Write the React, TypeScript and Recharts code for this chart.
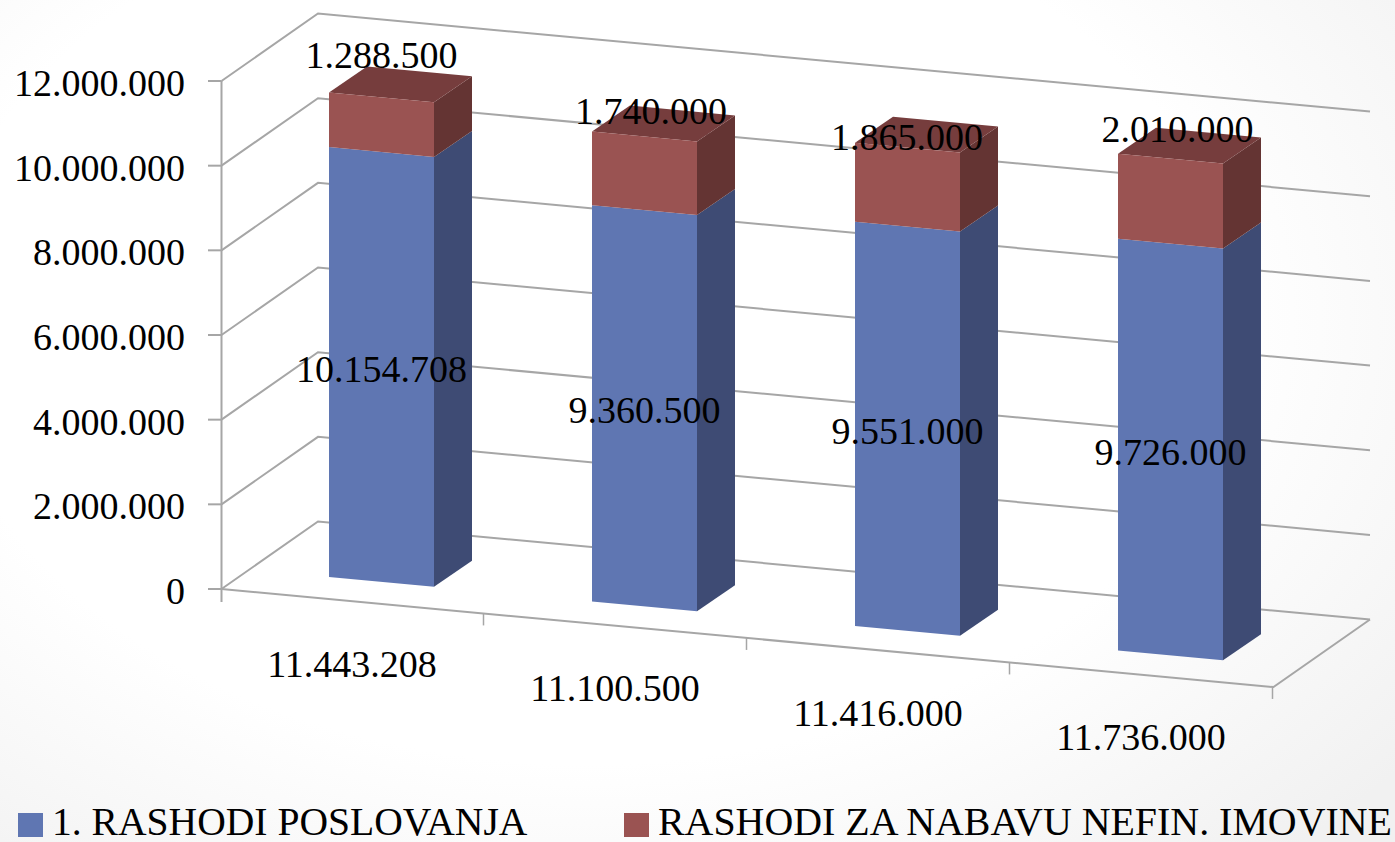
import React from "react";
import { BarChart, Bar, XAxis, YAxis, Legend, LabelList, CartesianGrid } from "recharts";

const totals = [11443208, 11100500, 11416000, 11736000];
const operating = [10154708, 9360500, 9551000, 9726000];
const nonFinancial = [1288500, 1740000, 1865000, 2010000];
const yTicks = [0, 2000000, 4000000, 6000000, 8000000, 10000000, 12000000];
const seriesNames = ["1. RASHODI POSLOVANJA", "RASHODI ZA NABAVU NEFIN. IMOVINE"];

const labelNudgeX = [0, 6.5, -0.5, 7];
const labelNudgeY = [-69.5, -62, -50.5, -72.5];

const rows = totals.map((t, i) => ({ total: t, operating: operating[i], nonFinancial: nonFinancial[i] }));

const W = 1395;
const H = 842;
const FONT = "'Liberation Serif', serif";
const FS = 38;
const GRID = "#a6a6a6";
const SLOPE = 0.0932;
const DEPTH_X = 38;
const DEPTH_Y = -26;
const FIRST_BAR_X = 329;
const PLOT_LEFT = 250;
const PLOT_TOP = 69;
const PLOT_H = 508;
const FRONT_X = 221.5;
const FRONT_DY = 12;
const WALL_X = 96.5;
const WALL_Y = -67.5;
const WALL_W = 1052;

const fmt = (v: number) => String(v).replace(/\B(?=(\d{3})+(?!\d))/g, ".");
const shear = (x: number) => SLOPE * (x - FIRST_BAR_X);
const pts = (a: number[][]) => a.map((p) => p.join(",")).join(" ");

const makeBar = (front: string, side: string, top?: string) => (props: any) => {
  const { x, y, width: w, height: h } = props;
  const a = shear(x);
  const b = shear(x + w);
  return (
    <g>
      <polygon points={pts([[x + w, y + b], [x + w + DEPTH_X, y + b + DEPTH_Y], [x + w + DEPTH_X, y + h + b + DEPTH_Y], [x + w, y + h + b]])} fill={side} />
      {top && (
        <polygon points={pts([[x, y + a], [x + DEPTH_X, y + a + DEPTH_Y], [x + w + DEPTH_X, y + b + DEPTH_Y], [x + w, y + b]])} fill={top} />
      )}
      <polygon points={pts([[x, y + a], [x + w, y + b], [x + w, y + h + b], [x, y + h + a]])} fill={front} />
    </g>
  );
};

const BlueBar = makeBar("#5f76b2", "#3e4b74");
const RedBar = makeBar("#9a5352", "#643433", "#763d3d");

// Wall grid line: y comes from the value scale through CartesianGrid.
const WallLine = (props: any) => {
  const yy = props.y1 + FRONT_DY;
  const backX = FRONT_X + WALL_X;
  const backY = yy + WALL_Y;
  return (
    <polyline
      key={props.key}
      points={pts([[FRONT_X, yy], [backX, backY], [backX + WALL_W, backY + WALL_W * SLOPE]])}
      fill="none"
      stroke={GRID}
      strokeWidth={2}
    />
  );
};

const YTick = (props: any) => {
  const { y, payload } = props;
  const yy = y + FRONT_DY;
  const backX = FRONT_X + WALL_X;
  const backY = yy + WALL_Y;
  const isZero = payload.value === 0;
  const isTop = payload.value === yTicks[yTicks.length - 1];
  return (
    <g>
      <line x1={208} x2={FRONT_X} y1={yy} y2={yy} stroke={GRID} strokeWidth={2} />
      {isTop && <line x1={FRONT_X} x2={FRONT_X} y1={yy} y2={yy + PLOT_H + 13} stroke={GRID} strokeWidth={2} />}
      {isZero && (
        <polyline
          points={pts([[FRONT_X, yy], [FRONT_X + WALL_W, yy + WALL_W * SLOPE], [backX + WALL_W, backY + WALL_W * SLOPE]])}
          fill="none"
          stroke={GRID}
          strokeWidth={2}
        />
      )}
      <text x={185} y={yy + 2} textAnchor="end" dominantBaseline="central" fontFamily={FONT} fontSize={FS} fill="#000">
        {fmt(payload.value)}
      </text>
    </g>
  );
};

const XTick = (props: any) => {
  const { x, payload, index } = props;
  const lx = x - 29.5;
  const tickX = x - 29.5 - 131.5 + 263;
  const tickY = 589 + SLOPE * (tickX - FRONT_X);
  return (
    <g>
      <line x1={tickX} x2={tickX} y1={tickY} y2={tickY + 12} stroke={GRID} strokeWidth={1.5} />
      <text x={lx} y={664 + 24.4 * index} textAnchor="middle" dominantBaseline="central" fontFamily={FONT} fontSize={FS} fill="#000">
        {fmt(payload.value)}
      </text>
    </g>
  );
};

const BlueLabel = (props: any) => {
  const { x, y, width: w, height: h, value } = props;
  return (
    <text x={x + w / 2} y={y + h / 2 + shear(x + w / 2) + 2} textAnchor="middle" dominantBaseline="central" fontFamily={FONT} fontSize={FS} fill="#000">
      {fmt(value)}
    </text>
  );
};

const RedLabel = (props: any) => {
  const { x, y, width: w, height: h, value, index } = props;
  return (
    <text
      x={x + w / 2 + labelNudgeX[index]}
      y={y + h / 2 + shear(x + w / 2) + labelNudgeY[index]}
      textAnchor="middle"
      dominantBaseline="central"
      fontFamily={FONT}
      fontSize={FS}
      fill="#000"
    >
      {fmt(value)}
    </text>
  );
};

const LegendBox = (props: any) => {
  const items = props.payload || [];
  const lefts = [18, 624];
  const sizes = [39.6, 39.9];
  return (
    <div style={{ position: "relative", width: W, height: 62, fontFamily: FONT, color: "#000" }}>
      {items.map((it: any, i: number) => (
        <div key={i} style={{ position: "absolute", left: lefts[i], top: 0, height: 62, whiteSpace: "nowrap", fontSize: sizes[i] }}>
          <span style={{ position: "absolute", left: 0, top: 33, width: 25, height: 24, background: it.color }} />
          <span style={{ position: "absolute", left: 34, top: 24, lineHeight: "36px", height: 36 }}>{it.value}</span>
        </div>
      ))}
    </div>
  );
};

export default function App() {
  return (
    <div
      style={{
        position: "absolute",
        left: 0,
        top: 0,
        width: W,
        height: H,
        overflow: "hidden",
        background: "radial-gradient(ellipse 75% 85% at 42% 38%, #ffffff 62%, #f1f1f1 100%)",
      }}
    >
      <BarChart
        width={W}
        height={H}
        data={rows}
        margin={{ top: PLOT_TOP, right: W - PLOT_LEFT - 1052, left: 0, bottom: 0 }}
      >
        <CartesianGrid vertical={false} horizontal={(p: any) => <WallLine {...p} />} syncWithTicks />
        <XAxis dataKey="total" type="category" height={203} interval={0} axisLine={false} tickLine={false} tick={<XTick />} />
        <YAxis
          type="number"
          width={PLOT_LEFT}
          domain={[0, yTicks[yTicks.length - 1]]}
          ticks={yTicks}
          interval={0}
          axisLine={false}
          tickLine={false}
          tick={<YTick />}
        />
        <Legend
          verticalAlign="bottom"
          content={<LegendBox />}
          wrapperStyle={{ left: 0, bottom: 0, width: W, height: 62 }}
        />
        <Bar dataKey="operating" name={seriesNames[0]} stackId="a" fill="#5f76b2" barSize={105} shape={BlueBar} isAnimationActive={false}>
          <LabelList dataKey="operating" content={<BlueLabel />} />
        </Bar>
        <Bar dataKey="nonFinancial" name={seriesNames[1]} stackId="a" fill="#9a5352" barSize={105} shape={RedBar} isAnimationActive={false}>
          <LabelList dataKey="nonFinancial" content={<RedLabel />} />
        </Bar>
      </BarChart>
    </div>
  );
}
